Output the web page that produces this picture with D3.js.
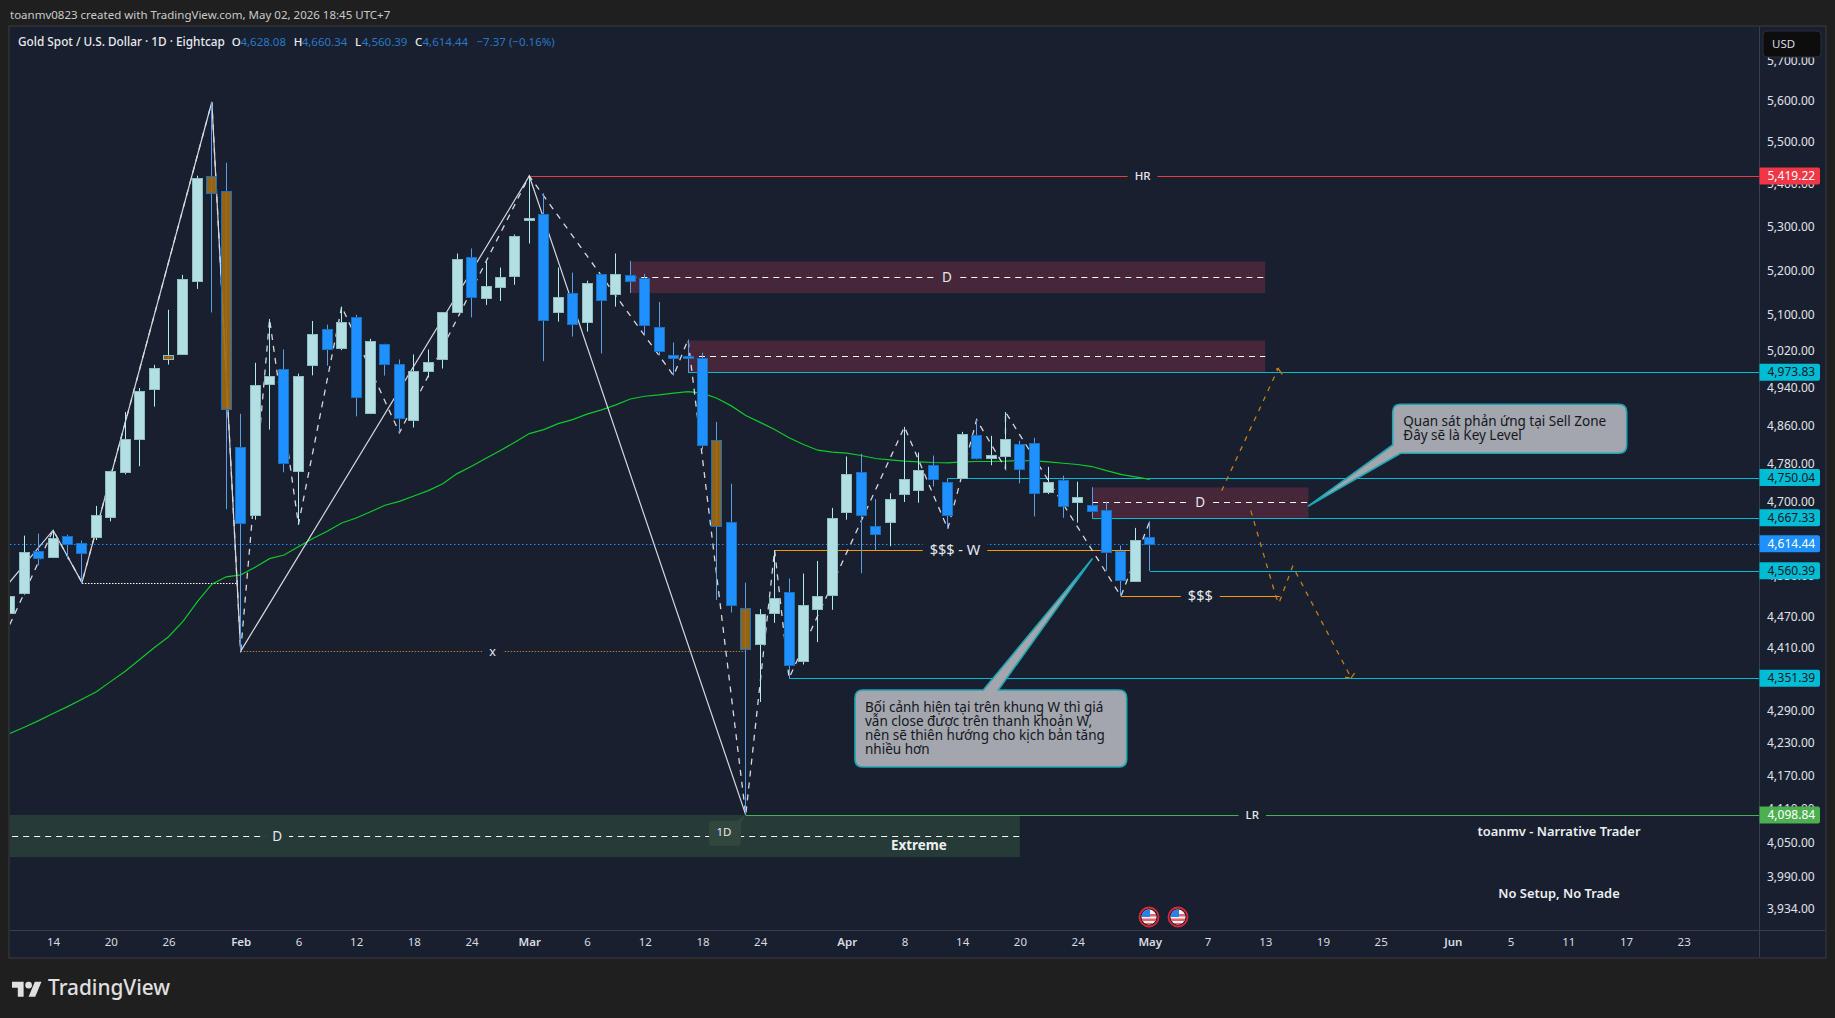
<!DOCTYPE html>
<html>
<head>
<meta charset="utf-8">
<title>XAUUSD 1D</title>
<script src="https://cdn.jsdelivr.net/npm/d3@7/dist/d3.min.js"></script>
<style>
  html, body { margin: 0; padding: 0; background: #1f1f1f; overflow: hidden; }
  svg { display: block; }
  text { font-family: "Noto Sans", sans-serif; }
</style>
</head>
<body>
<script>
// Daily candles, bar 0 is the first session of March.
const firstBar = -36;
const opens = [4478,4517,4600.5,4587.6,4630.6,4615.8,4628,4670,4761,4832.5,4937,5003,5013,5177,5418.5,5383.5,4814.4,4672,4947.4,4981,4763,4989,5069,5026.4,5095.3,4887,5036,4992,4870.3,4975.9,5002.3,5107.6,5231.3,5138,5163.8,5186.8,5315.2,5329.9,5107.6,5148.8,5083.5,5192.3,5147.7,5190,5183.1,5073.4,5011.9,5009.7,5005.3,4829,4658.8,4486.6,4416.5,4477,4519,4383.8,4485.8,4513.3,4680,4761.8,4650.7,4658,4716.8,4725.2,4776.5,4740.8,4749.8,4838.8,4790.4,4794.6,4820.7,4822.8,4721,4745,4698.2,4692.9,4682.9,4600.5,4541.4,4628.08];
const highs = [4511,4631,4635,4642,4633,4621,4691.5,4764,4888,4939.8,4990,5111.4,5190,5420,5597.4,5450.6,4884.4,4994.4,5091,5023.5,4970.9,5086.5,5078.4,5118.6,5100.4,5047,5036,5001.6,5012.6,5023.5,5106.3,5238.8,5250.3,5219.8,5206.7,5282.4,5419.22,5378.7,5206.7,5195.2,5176.9,5192.3,5238.8,5222,5192.3,5128.9,5038.9,5045.5,5016.3,4866.9,4737.2,4536.8,4484.7,4601.7,4545,4554.9,4580,4687.5,4794,4799.7,4705.7,4717.6,4856.4,4802.4,4796,4748.4,4845.9,4871.8,4837.5,4888,4827,4833.3,4772.3,4754,4741.4,4730,4700,4611,4646.7,4660.34];
const lows = [4454.5,4513,4571.5,4587.6,4584,4537,4622,4660,4756.8,4773.6,4899.7,4990.6,5013,5158.3,5105.4,4684.9,4403,4663.4,4850.7,4761,4653.4,4967,4988,5022,4878.7,4887,4966.5,4843.8,4855,4962.7,4981.8,5107.6,5094.4,5122.3,5131.1,5167.7,5261.8,4997.9,5085,5052,5063,5014.8,5118.6,5149.4,5056.5,5010.4,4966.5,4973.83,4808.7,4502.6,4478,4098.84,4306.3,4457.7,4351.39,4377.4,4420.4,4483.3,4663.4,4555.5,4601.7,4609.7,4699.6,4698.2,4731.6,4644.7,4747.7,4787.7,4775.7,4768.8,4737.9,4670,4716,4667.33,4657.4,4666,4560.39,4510,4541.4,4560.39];
const closes = [4511,4598,4585.6,4626.6,4615,4595.7,4672.8,4763.9,4831,4934,4983.4,5011,5180.8,5414.7,5377.8,4894.3,4658,4946,4965.8,4780.7,4965.8,5058,5025,5084.3,4921,5042.6,4991.3,4876.6,4975.9,4996.5,5106.3,5226.7,5140.9,5164.7,5185.4,5279.4,5320.7,5087.9,5140.2,5079,5171.6,5134,5192.3,5175.3,5076.9,5019.8,5004.4,5004.4,4817.7,4649.9,4493.5,4407.6,4475,4507,4378,4492.4,4511,4666.8,4757.6,4674,4633.9,4705,4747,4766,4748.4,4672,4841.7,4790.4,4797.6,4831.2,4767.3,4719,4740.8,4692.1,4709,4680,4597.7,4543.4,4622.6,4614.44];
// Sessions the author's indicator paints amber.
const amberBars = [-25, -22, -21, 13, 15];

const movingAverage = [4247.3,4258.9,4271.3,4284.7,4297.6,4311.3,4325.4,4345.2,4364.5,4387,4409.6,4430.8,4460.8,4499.3,4533.8,4548.4,4552.4,4567.3,4584.6,4592,4608.7,4625.2,4639.9,4656.8,4666.8,4679.5,4692.9,4701,4712,4723.1,4737.2,4758.3,4773.6,4790.4,4806.6,4824,4842.3,4850.7,4863.4,4871.8,4883.7,4892.8,4903.3,4916,4921.9,4924.8,4928.5,4932,4928.5,4917.5,4901.2,4880.8,4866.1,4850.7,4833.3,4819.2,4807.2,4803,4800.9,4796.1,4789.8,4787,4784.1,4782.8,4781.4,4780.7,4782.8,4783.5,4783.5,4784.1,4785.6,4785,4782.8,4779.8,4777.2,4773,4764.6,4756.8,4751.3,4746.3];

// Swing structure.
const majorBars = [-36.5, -33, -31, -22, -20, 0, 15];
const majorPrices = [4521, 4642, 4537, 5597.4, 4403, 5419.22, 4098.84];
const minorBars = [-36, -33, -31, -22, -20, -18, -16, -13, -9, 0, 10, 11, 15, 17, 18, 26, 29, 31, 33, 33, 41, 43];
const minorPrices = [4454.5, 4642, 4537, 5597.4, 4403, 5091, 4653.4, 5118.6, 4843.8, 5419.22, 4966.5, 5045.5, 4098.84, 4601.7, 4351.39, 4856.4, 4644.7, 4871.8, 4768.8, 4888, 4510, 4660.34];

// Scenario paths.
const projectionUpBars = [47.98, 51.9, 51.5];
const projectionUpPrices = [4722.6, 4981.8, 4978];
const projectionUpWingBars = [51.9, 52.18];
const projectionUpWingPrices = [4981.8, 4969];
const projectionDownBars = [50, 51.75, 51.95, 52.9, 56.95, 56.53];
const projectionDownPrices = [4682, 4508.6, 4496.2, 4569.5, 4352, 4352.6];
const projectionDownWingBars = [56.95, 57.2];
const projectionDownWingPrices = [4352, 4361];

// Supply and demand zones: [startBar, endBar, topPrice, bottomPrice, middlePrice].
const sellZoneA = [7, 51, 5220.5, 5148.8, 5185.4];
const sellZoneB = [11, 51, 5043.3, 4973.83, 5009.7];
const sellZoneC = [39, 54, 4729.5, 4667.33, 4699];
const buyZone = [-36.6, 34, 4098.84, 4023.9, 4061.6];

// Horizontal levels: [startBar, price].
const cyanLevels = [[11, 4973.83], [29, 4750.04], [39, 4667.33], [43, 4560.39], [18, 4351.39]];
const highLevel = 5419.22, lowLevel = 4098.84, lastPrice = 4614.44;
const weeklyLiquidity = [17, 42, 4601.7];
const dailyLiquidity = [41, 52, 4510];
const internalLow = [-31, -20.3, 4537];
const crossLow = [-20, 15, 4403];

const priceTicks = [5700,5600,5500,5400,5300,5200,5100,5020,4940,4860,4780,4700,4620,4550,4470,4410,4350,4290,4230,4170,4110,4050,3990,3934];
const priceTags = [
  {v: 5419.22, bg: "#f23645", fg: "#ffffff"},
  {v: 4973.83, bg: "#00bcd4", fg: "#131722"},
  {v: 4750.04, bg: "#00bcd4", fg: "#131722"},
  {v: 4667.33, bg: "#00bcd4", fg: "#131722"},
  {v: 4614.44, bg: "#1e90ff", fg: "#ffffff"},
  {v: 4560.39, bg: "#00bcd4", fg: "#131722"},
  {v: 4351.39, bg: "#00bcd4", fg: "#131722"},
  {v: 4098.84, bg: "#4caf50", fg: "#ffffff"}
];
const timeTickBars = [-33,-29,-25,-20,-16,-12,-8,-4,0,4,8,12,16,22,26,30,34,38,43,47,51,55,59,64,68,72,76,80];
const timeTickLabels = ["14","20","26","Feb","6","12","18","24","Mar","6","12","18","24","Apr","8","14","20","24","May","7","13","19","25","Jun","5","11","17","23"];
const monthLabels = ["Feb","Mar","Apr","May","Jun"];

const W = 1835, H = 1018;
const plot = {left: 10, right: 1759, top: 27, bottom: 930, axisBottom: 957, edge: 1825};
const C = {
  page: "#1f1f1f", pane: "#181f2e", frame: "#2b2d33", sep: "#3a3e4a",
  upFill: "#b2dfe3", upEdge: "#8fbcc0", upWick: "#b2ebf2",
  downFill: "#1e90ff", downEdge: "#1a70c2", downWick: "#5f9be8",
  amber: "#a06a12", ma: "#12c92a", cyan: "#00bcd4", orange: "#ff9800",
  projection: "#c77e14", maroon: "#46273a", green: "#263b37", axisText: "#e0e3eb"
};

const x = d3.scaleLinear().domain([0, 1]).range([529.3, 543.73]);
const y = d3.scaleLog().domain([3897.8, 5783.9]).range([plot.bottom, plot.top]);
const line = d3.line().x(d => x(d[0])).y(d => y(d[1]));
const zip = (a, b) => a.map((d, i) => [d, b[i]]);

const candles = opens.map((o, i) => ({
  bar: firstBar + i, o, h: highs[i], l: lows[i], c: closes[i],
  up: closes[i] >= o, amber: amberBars.includes(firstBar + i)
}));

const svg = d3.select("body").append("svg").attr("width", W).attr("height", H);
const defs = svg.append("defs");
defs.append("clipPath").attr("id", "pane").append("rect")
  .attr("x", plot.left).attr("y", plot.top)
  .attr("width", plot.right - plot.left).attr("height", plot.bottom - plot.top);

// Page, pane and axis frames.
svg.append("rect").attr("width", W).attr("height", H).attr("fill", C.page);
svg.append("rect").attr("x", plot.left - 2).attr("y", plot.top - 2)
  .attr("width", plot.edge - plot.left + 4).attr("height", plot.axisBottom - plot.top + 4)
  .attr("fill", C.frame);
svg.append("rect").attr("x", plot.left).attr("y", plot.top)
  .attr("width", plot.edge - plot.left).attr("height", plot.axisBottom - plot.top)
  .attr("fill", C.pane);
svg.append("line").attr("x1", plot.left).attr("x2", plot.edge).attr("y1", plot.bottom + .5).attr("y2", plot.bottom + .5).attr("stroke", C.sep);
svg.append("line").attr("x1", plot.right + .5).attr("x2", plot.right + .5).attr("y1", plot.top).attr("y2", plot.axisBottom).attr("stroke", C.sep);

const pane = svg.append("g").attr("clip-path", "url(#pane)");

// Zones with their dashed midlines.
function drawZone(z, fill) {
  const [b0, b1, top, bottom, mid] = z;
  pane.append("rect").attr("x", x(b0)).attr("width", x(b1) - x(b0))
    .attr("y", y(top)).attr("height", y(bottom) - y(top)).attr("fill", fill);
  pane.append("line").attr("x1", x(b0)).attr("x2", x(b1))
    .attr("y1", Math.round(y(mid)) + .5).attr("y2", Math.round(y(mid)) + .5)
    .attr("stroke", "#ffffff").attr("stroke-dasharray", "6 5");
}
drawZone(sellZoneA, C.maroon);
drawZone(sellZoneB, C.maroon);
drawZone(sellZoneC, C.maroon);
drawZone(buyZone, C.green);

// Last price.
pane.append("line").attr("x1", plot.left).attr("x2", plot.right)
  .attr("y1", Math.round(y(lastPrice)) + .5).attr("y2", Math.round(y(lastPrice)) + .5)
  .attr("stroke", "#1e90ff").attr("stroke-dasharray", "1.5 2.5");

// Horizontal levels.
function level(b0, b1, price, color, dash) {
  const yy = Math.round(y(price)) + .5;
  const l = pane.append("line").attr("x1", x(b0)).attr("x2", b1 === null ? plot.right : x(b1))
    .attr("y1", yy).attr("y2", yy).attr("stroke", color);
  if (dash) l.attr("stroke-dasharray", dash);
}
cyanLevels.forEach(([b, p]) => level(b, null, p, C.cyan));
level(0, null, highLevel, "#f23645");
level(15, null, lowLevel, "#4caf50");
level(weeklyLiquidity[0], weeklyLiquidity[1], weeklyLiquidity[2], C.orange);
level(dailyLiquidity[0], dailyLiquidity[1], dailyLiquidity[2], C.orange);
level(internalLow[0], internalLow[1], internalLow[2], "#ffffff", "1.5 1.5");
level(crossLow[0], crossLow[1], crossLow[2], "#b5782a", "1.5 1.5");

// Moving average.
pane.append("path").datum(movingAverage.map((v, i) => [firstBar + i, v]))
  .attr("d", line).attr("fill", "none").attr("stroke", C.ma).attr("stroke-width", 1.2);

// Swing lines sit beneath the candles.
pane.append("path").datum(zip(majorBars, majorPrices)).attr("d", line)
  .attr("fill", "none").attr("stroke", "#d6d8de").attr("stroke-width", 1.2);
pane.append("path").datum(zip(minorBars, minorPrices)).attr("d", line)
  .attr("fill", "none").attr("stroke", "#d6d8de").attr("stroke-width", 1.3).attr("stroke-dasharray", "6 6");

// Candles.
const candleG = pane.selectAll("g.candle").data(candles).join("g").attr("class", "candle");
candleG.append("line")
  .attr("x1", d => Math.floor(x(d.bar)) + .5).attr("x2", d => Math.floor(x(d.bar)) + .5)
  .attr("y1", d => y(d.h)).attr("y2", d => y(d.l))
  .attr("stroke", d => d.up ? C.upWick : C.downWick);
candleG.append("rect")
  .attr("x", d => Math.floor(x(d.bar)) - 4.5).attr("width", 10)
  .attr("y", d => Math.round(y(Math.max(d.o, d.c))) + .5)
  .attr("height", d => Math.max(1, Math.round(Math.abs(y(d.o) - y(d.c)))))
  .attr("fill", d => d.amber ? C.amber : d.up ? C.upFill : C.downFill)
  .attr("fill-opacity", d => d.amber ? .92 : 1)
  .attr("stroke", d => d.up ? C.upEdge : C.downEdge);

// Projected scenarios.
const projectionStyle = s => s.attr("fill", "none").attr("stroke", C.projection)
  .attr("stroke-width", 1.3).attr("stroke-dasharray", "5 6");
pane.append("path").datum(zip(projectionUpBars, projectionUpPrices)).attr("d", line).call(projectionStyle);
pane.append("path").datum(zip(projectionDownBars, projectionDownPrices)).attr("d", line).call(projectionStyle);
pane.append("path").datum(zip(projectionUpWingBars, projectionUpWingPrices)).attr("d", line)
  .attr("fill", "none").attr("stroke", C.projection).attr("stroke-width", 1.3);
pane.append("path").datum(zip(projectionDownWingBars, projectionDownWingPrices)).attr("d", line)
  .attr("fill", "none").attr("stroke", C.projection).attr("stroke-width", 1.3);

// Captions that interrupt a line: a small patch of the backdrop sits behind the text.
function caption(bar, price, txt, bg, opts = {}) {
  const g = svg.append("g").attr("clip-path", "url(#pane)");
  const t = g.append("text").attr("x", x(bar)).attr("y", y(price)).attr("dy", ".35em")
    .attr("text-anchor", "middle").attr("fill", "#e6e8ee")
    .attr("font-size", opts.size || 13.5).attr("font-weight", opts.weight || 400).text(txt);
  const w = t.node().getComputedTextLength();
  g.insert("rect", "text").attr("x", x(bar) - w / 2 - 7).attr("width", w + 14)
    .attr("y", y(price) - 8).attr("height", 16).attr("fill", bg);
}
caption(42.5, highLevel, "HR", C.pane, {size: 11.5, weight: 500});
caption(50.1, lowLevel, "LR", C.pane, {size: 11.5, weight: 500});
caption(28.95, sellZoneA[4], "D", C.maroon);
caption(46.5, sellZoneC[4], "D", C.maroon);
caption(-17.48, buyZone[4], "D", C.green);
caption(29.5, weeklyLiquidity[2], "$$$ - W", C.pane, {size: 14.5});
caption(46.5, dailyLiquidity[2], "$$$", C.pane, {size: 14.5});
caption(-2.54, crossLow[2], "x", C.pane, {size: 12.5});

// Timeframe chip and zone tag on the demand zone.
const chip = svg.append("g");
chip.append("path").attr("d", "M709 824a3 3 0 0 1 3-3h25l8-6-4 8v20a3 3 0 0 1-3 3h-26a3 3 0 0 1-3-3z").attr("fill", "#30463f");
chip.append("text").attr("x", 724).attr("y", 832).attr("dy", ".35em").attr("text-anchor", "middle")
  .attr("fill", "#e6e8ee").attr("font-size", 11.5).text("1D");
svg.append("text").attr("x", x(27)).attr("y", y(4044)).attr("dy", ".35em").attr("text-anchor", "middle")
  .attr("fill", "#eceef2").attr("font-size", 13.4).attr("font-weight", 700).text("Extreme");

// Callouts.
function callout(box, tail, tip, lines, textX, textY) {
  const r = 8, [l, t, rt, b] = box;
  const [tx, ty] = [x(tip[0]), y(tip[1])];
  let d;
  if (tail.side === "top") {
    d = `M${l + r} ${t}L${tail.a} ${t}L${tx} ${ty}L${tail.b} ${t}L${rt - r} ${t}Q${rt} ${t} ${rt} ${t + r}L${rt} ${b - r}Q${rt} ${b} ${rt - r} ${b}L${l + r} ${b}Q${l} ${b} ${l} ${b - r}L${l} ${t + r}Q${l} ${t} ${l + r} ${t}Z`;
  } else {
    d = `M${l + r} ${t}L${rt - r} ${t}Q${rt} ${t} ${rt} ${t + r}L${rt} ${b - r}Q${rt} ${b} ${rt - r} ${b}L${tail.b} ${b}L${tx} ${ty}L${l} ${tail.a}L${l} ${t + r}Q${l} ${t} ${l + r} ${t}Z`;
  }
  svg.append("path").attr("d", d).attr("fill", "#a3a6ad").attr("stroke", "#1fa5b4").attr("stroke-width", 1.6).attr("stroke-linejoin", "round");
  const text = svg.append("text").attr("fill", "#14171f").attr("font-size", 13.5);
  lines.forEach((s, i) => text.append("tspan").attr("x", textX).attr("y", textY + i * 14).text(s));
}
callout([855, 690, 1126.7, 767], {side: "top", a: 983.3, b: 998.3}, [39, 4584],
  ["Bối cảnh hiện tại trên khung W thì giá", "vẫn close được trên thanh khoản W,", "nên sẽ thiên hướng cho kịch bản tăng", "nhiều hơn"], 865, 712);
callout([1392.7, 404.3, 1626.7, 453.3], {side: "left", a: 445, b: 1400.7}, [54, 4691.5],
  ["Quan sát phản ứng tại Sell Zone", "Đây sẽ là Key Level"], 1403.3, 426);

// Notes at the lower right.
const note = (txt, yy) => svg.append("text").attr("x", 1559).attr("y", yy).attr("dy", ".35em")
  .attr("text-anchor", "middle").attr("fill", "#eceef2").attr("font-size", 12.9).attr("font-weight", 600).text(txt);
note("toanmv - Narrative Trader", 831);
note("No Setup, No Trade", 893);

// Economic calendar markers.
defs.append("clipPath").attr("id", "flagDisc").append("circle").attr("r", 7.5);
[1149, 1178].forEach(px => {
  const g = svg.append("g").attr("transform", `translate(${px},917)`);
  g.append("circle").attr("r", 9.5).attr("fill", "#141a27").attr("stroke", "#e0263a").attr("stroke-width", 1.8);
  const f = g.append("g").attr("clip-path", "url(#flagDisc)");
  f.append("rect").attr("x", -8).attr("y", -8).attr("width", 16).attr("height", 16).attr("fill", "#f2f2f2");
  [-3, 1.5, 6].forEach(s => f.append("rect").attr("x", -8).attr("y", s).attr("width", 16).attr("height", 2.5).attr("fill", "#e5636a"));
  f.append("rect").attr("x", -8).attr("y", -8).attr("width", 9).attr("height", 8).attr("fill", "#2a7fe8");
});

// Axes.
const priceAxis = d3.axisRight(y).tickValues(priceTicks).tickFormat(d3.format(",.2f")).tickSize(0).tickPadding(8);
const priceG = svg.append("g").attr("transform", `translate(${plot.right},0)`).call(priceAxis);
priceG.select(".domain").remove();
priceG.selectAll("text").attr("fill", C.axisText).attr("font-size", 12).attr("font-family", "\"Noto Sans\", sans-serif");

const timeAxis = d3.axisBottom(x).tickValues(timeTickBars).tickFormat((d, i) => timeTickLabels[i]).tickSize(0).tickPadding(8);
const timeG = svg.append("g").attr("transform", `translate(0,${plot.bottom})`).call(timeAxis);
timeG.select(".domain").remove();
timeG.selectAll("text").attr("fill", "#d8dbe2").attr("font-size", 11.5).attr("font-family", "\"Noto Sans\", sans-serif")
  .attr("font-weight", (d, i) => monthLabels.includes(timeTickLabels[i]) ? 600 : 400);

// Price tags on the right axis.
priceTags.forEach(tag => {
  const g = svg.append("g").attr("transform", `translate(${plot.right + .5},${y(tag.v)})`);
  g.append("path").attr("d", "M0 -8.5H58.5a2 2 0 0 1 2 2V6.5a2 2 0 0 1-2 2H0Z").attr("fill", tag.bg);
  g.append("text").attr("x", 8).attr("dy", ".35em").attr("fill", tag.fg).attr("font-size", 12).text(d3.format(",.2f")(tag.v));
});

// Currency button.
svg.append("rect").attr("x", 1763).attr("y", 31).attr("width", 58).attr("height", 26).attr("rx", 4)
  .attr("fill", "#0d0d0d").attr("stroke", "#2b2e38");
svg.append("text").attr("x", 1772).attr("y", 44).attr("dy", ".35em").attr("fill", "#d8dbe2").attr("font-size", 11.5).text("USD");

// Header lines.
svg.append("text").attr("x", 10).attr("y", 15).attr("dy", ".35em").attr("fill", "#c8cad0").attr("font-size", 11.5)
  .text("toanmv0823 created with TradingView.com, May 02, 2026 18:45 UTC+7");
const legend = svg.append("g").attr("font-size", 11.5);
const legendItem = (xx, txt, fill, weight, size) => legend.append("text").attr("x", xx).attr("y", 42).attr("dy", ".35em")
  .attr("fill", fill).attr("font-weight", weight || 400).attr("font-size", size || 11.5).text(txt);
legendItem(18, "Gold Spot / U.S. Dollar · 1D · Eightcap", "#e8eaee", 500, 11.8);
[[231.7, "O", 240.4, "4,628.08"], [293.8, "H", 301.7, "4,660.34"], [355, "L", 361.8, "4,560.39"], [415, "C", 422.5, "4,614.44"]]
  .forEach(([a, k, b, v]) => { legendItem(a, k, "#e8eaee", 500); legendItem(b, v, "#2a78c8"); });
legendItem(476.5, "−7.37 (−0.16%)", "#2a78c8");

// Brand mark.
const brand = svg.append("g").attr("transform", "translate(12,978.5) scale(.83)");
brand.append("path").attr("d", "M14 22H7V11H0V4h14v18zM28 22h-8l7.5-18h8L28 22z").attr("fill", "#e0e0e0");
brand.append("circle").attr("cx", 20).attr("cy", 8).attr("r", 4).attr("fill", "#e0e0e0");
svg.append("text").attr("x", 48).attr("y", 988).attr("dy", ".35em").attr("fill", "#e0e0e0")
  .attr("font-size", 20.8).attr("font-weight", 500).text("TradingView");
</script>
</body>
</html>
